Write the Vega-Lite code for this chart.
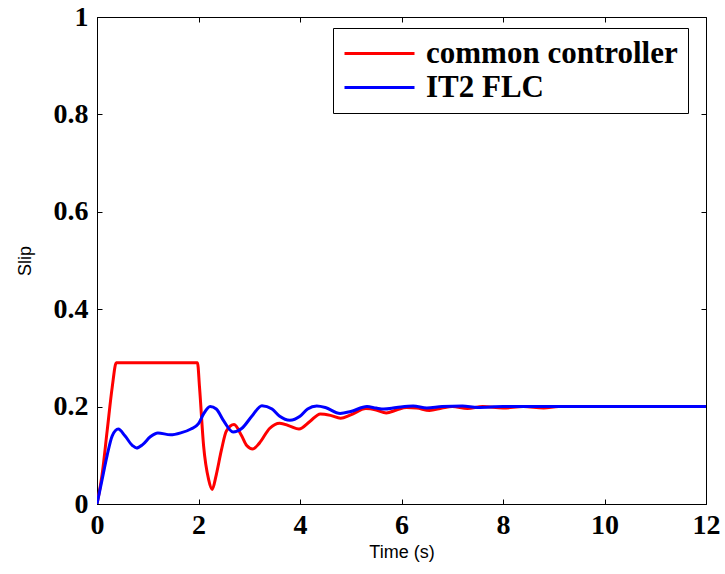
{
  "$schema": "https://vega.github.io/schema/vega-lite/v6.json",
  "autosize": "none",
  "width": 609,
  "height": 487,
  "padding": {"left": 97, "top": 17, "right": 19, "bottom": 70},
  "background": "white",
  "config": {
    "view": {"stroke": "black", "strokeWidth": 1},
    "axis": {"grid": false, "domainColor": "black", "tickColor": "black", "labelColor": "black", "titleColor": "black", "labelFlush": false}
  },
  "data": {"values": [
    {"t":0,"v":0,"s":"common controller"},
    {"t":0.1,"v":0.06,"s":"common controller"},
    {"t":0.2,"v":0.15,"s":"common controller"},
    {"t":0.3,"v":0.24,"s":"common controller"},
    {"t":0.38,"v":0.29,"s":"common controller"},
    {"t":1.98,"v":0.29,"s":"common controller"},
    {"t":2.02,"v":0.24,"s":"common controller"},
    {"t":2.1,"v":0.12,"s":"common controller"},
    {"t":2.2,"v":0.05,"s":"common controller"},
    {"t":2.27,"v":0.03,"s":"common controller"},
    {"t":2.35,"v":0.06,"s":"common controller"},
    {"t":2.45,"v":0.11,"s":"common controller"},
    {"t":2.55,"v":0.15,"s":"common controller"},
    {"t":2.7,"v":0.163,"s":"common controller"},
    {"t":2.85,"v":0.14,"s":"common controller"},
    {"t":2.95,"v":0.12,"s":"common controller"},
    {"t":3.07,"v":0.113,"s":"common controller"},
    {"t":3.2,"v":0.125,"s":"common controller"},
    {"t":3.4,"v":0.155,"s":"common controller"},
    {"t":3.6,"v":0.166,"s":"common controller"},
    {"t":3.8,"v":0.16,"s":"common controller"},
    {"t":3.98,"v":0.154,"s":"common controller"},
    {"t":4.2,"v":0.17,"s":"common controller"},
    {"t":4.4,"v":0.185,"s":"common controller"},
    {"t":4.6,"v":0.182,"s":"common controller"},
    {"t":4.8,"v":0.176,"s":"common controller"},
    {"t":5.0,"v":0.183,"s":"common controller"},
    {"t":5.3,"v":0.196,"s":"common controller"},
    {"t":5.5,"v":0.193,"s":"common controller"},
    {"t":5.7,"v":0.187,"s":"common controller"},
    {"t":5.9,"v":0.193,"s":"common controller"},
    {"t":6.1,"v":0.198,"s":"common controller"},
    {"t":6.3,"v":0.197,"s":"common controller"},
    {"t":6.55,"v":0.192,"s":"common controller"},
    {"t":6.8,"v":0.197,"s":"common controller"},
    {"t":7.0,"v":0.2,"s":"common controller"},
    {"t":7.3,"v":0.196,"s":"common controller"},
    {"t":7.6,"v":0.2,"s":"common controller"},
    {"t":8.0,"v":0.197,"s":"common controller"},
    {"t":8.4,"v":0.2,"s":"common controller"},
    {"t":8.8,"v":0.197,"s":"common controller"},
    {"t":9.1,"v":0.2,"s":"common controller"},
    {"t":12,"v":0.2,"s":"common controller"},
    {"t":0,"v":0,"s":"IT2 FLC"},
    {"t":0.1,"v":0.05,"s":"IT2 FLC"},
    {"t":0.2,"v":0.1,"s":"IT2 FLC"},
    {"t":0.3,"v":0.14,"s":"IT2 FLC"},
    {"t":0.42,"v":0.154,"s":"IT2 FLC"},
    {"t":0.55,"v":0.14,"s":"IT2 FLC"},
    {"t":0.7,"v":0.12,"s":"IT2 FLC"},
    {"t":0.78,"v":0.115,"s":"IT2 FLC"},
    {"t":0.9,"v":0.122,"s":"IT2 FLC"},
    {"t":1.05,"v":0.138,"s":"IT2 FLC"},
    {"t":1.2,"v":0.146,"s":"IT2 FLC"},
    {"t":1.45,"v":0.142,"s":"IT2 FLC"},
    {"t":1.65,"v":0.146,"s":"IT2 FLC"},
    {"t":1.85,"v":0.154,"s":"IT2 FLC"},
    {"t":2.0,"v":0.165,"s":"IT2 FLC"},
    {"t":2.1,"v":0.185,"s":"IT2 FLC"},
    {"t":2.23,"v":0.2,"s":"IT2 FLC"},
    {"t":2.35,"v":0.195,"s":"IT2 FLC"},
    {"t":2.5,"v":0.17,"s":"IT2 FLC"},
    {"t":2.68,"v":0.148,"s":"IT2 FLC"},
    {"t":2.85,"v":0.155,"s":"IT2 FLC"},
    {"t":3.05,"v":0.18,"s":"IT2 FLC"},
    {"t":3.25,"v":0.202,"s":"IT2 FLC"},
    {"t":3.45,"v":0.195,"s":"IT2 FLC"},
    {"t":3.6,"v":0.18,"s":"IT2 FLC"},
    {"t":3.8,"v":0.172,"s":"IT2 FLC"},
    {"t":4.0,"v":0.18,"s":"IT2 FLC"},
    {"t":4.15,"v":0.195,"s":"IT2 FLC"},
    {"t":4.33,"v":0.201,"s":"IT2 FLC"},
    {"t":4.5,"v":0.198,"s":"IT2 FLC"},
    {"t":4.79,"v":0.186,"s":"IT2 FLC"},
    {"t":5.0,"v":0.19,"s":"IT2 FLC"},
    {"t":5.32,"v":0.2,"s":"IT2 FLC"},
    {"t":5.5,"v":0.197,"s":"IT2 FLC"},
    {"t":5.65,"v":0.195,"s":"IT2 FLC"},
    {"t":5.9,"v":0.198,"s":"IT2 FLC"},
    {"t":6.23,"v":0.201,"s":"IT2 FLC"},
    {"t":6.5,"v":0.197,"s":"IT2 FLC"},
    {"t":6.8,"v":0.2,"s":"IT2 FLC"},
    {"t":7.2,"v":0.201,"s":"IT2 FLC"},
    {"t":7.5,"v":0.198,"s":"IT2 FLC"},
    {"t":8.0,"v":0.2,"s":"IT2 FLC"},
    {"t":12,"v":0.2,"s":"IT2 FLC"}
  ]},
  "layer": [
    {
      "transform": [{"filter": "datum.s === 'common controller'"}],
      "mark": {"type": "line", "strokeWidth": 3, "clip": true, "interpolate": "monotone"},
      "encoding": {
        "x": {"field": "t", "type": "quantitative", "scale": {"domain": [0, 12], "nice": false}, "title": "Time (s)",
          "axis": {"values": [0,2,4,6,8,10,12], "format": "~g", "tickSize": -5, "labelFont": "Liberation Serif", "labelFontWeight": "bold", "labelFontSize": 28, "labelPadding": 12, "titleFont": "Liberation Sans", "titleFontSize": 18, "titleFontWeight": "normal", "titlePadding": 4}},
        "y": {"field": "v", "type": "quantitative", "scale": {"domain": [0, 1], "nice": false}, "title": "Slip",
          "axis": {"values": [0,0.2,0.4,0.6,0.8,1], "format": "~g", "tickSize": -5, "labelFont": "Liberation Serif", "labelFontWeight": "bold", "labelFontSize": 28, "labelPadding": 14, "titleFont": "Liberation Sans", "titleFontSize": 18, "titleFontWeight": "normal", "titlePadding": 19}},
        "color": {"field": "s", "type": "nominal", "scale": {"domain": ["common controller", "IT2 FLC"], "range": ["#ff0000", "#0000ff"]},
          "legend": {"orient": "none", "legendX": 236, "legendY": 11, "title": null, "symbolType": "M-1,0H4", "symbolSize": 784, "symbolStrokeWidth": 3, "symbolFillColor": "transparent", "labelFont": "Liberation Serif", "labelFontWeight": "bold", "labelFontSize": 31, "labelColor": "black", "labelLimit": 0, "strokeColor": "black", "fillColor": "white", "padding": 10, "rowPadding": 2, "labelOffset": 52}}
      }
    },
    {
      "transform": [{"filter": "datum.s === 'IT2 FLC'"}],
      "mark": {"type": "line", "strokeWidth": 3, "clip": true, "interpolate": "monotone"},
      "encoding": {
        "x": {"field": "t", "type": "quantitative", "axis": null},
        "y": {"field": "v", "type": "quantitative", "axis": null},
        "color": {"field": "s", "type": "nominal"}
      }
    },
    {
      "mark": {"type": "line", "opacity": 0},
      "encoding": {
        "x": {"field": "t", "type": "quantitative", "axis": {"orient": "top", "values": [0,2,4,6,8,10,12], "tickSize": -5, "labels": false, "title": null, "domain": false}},
        "y": {"field": "v", "type": "quantitative", "axis": {"orient": "right", "values": [0,0.2,0.4,0.6,0.8,1], "tickSize": -5, "labels": false, "title": null, "domain": false}}
      }
    }
  ],
  "resolve": {"axis": {"x": "independent", "y": "independent"}}
}
